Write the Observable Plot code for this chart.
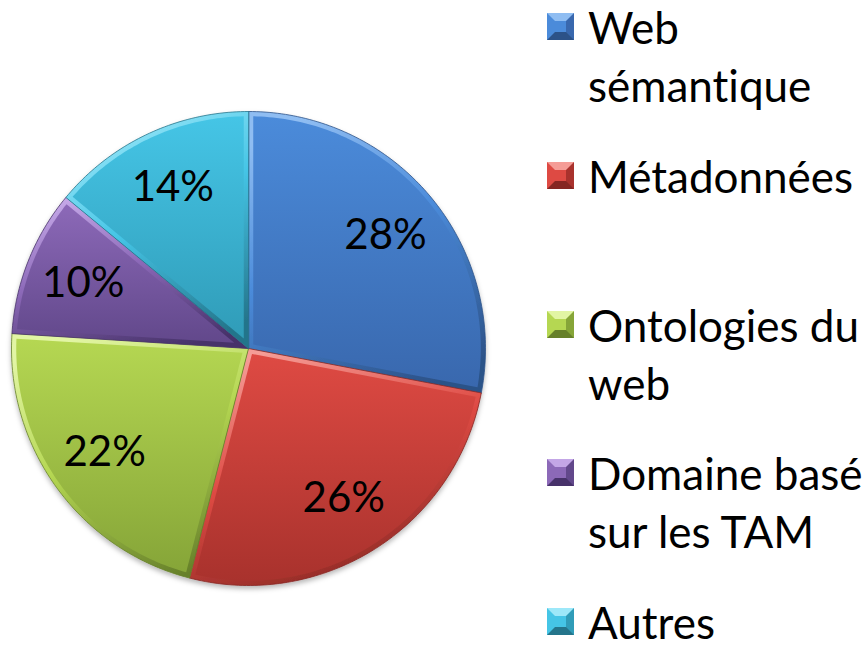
<!DOCTYPE html>
<html>
<head>
<meta charset="utf-8">
<script src="https://cdn.jsdelivr.net/npm/d3@7"></script>
<script src="https://cdn.jsdelivr.net/npm/@observablehq/plot@0.6"></script>
<style>
  html, body { margin: 0; padding: 0; background: #fff; }
  #wrap { position: relative; width: 867px; height: 660px; overflow: hidden; font-family: Lato, "Open Sans", sans-serif; font-variant-ligatures: none; }
  #chart { position: absolute; left: 0; top: 0; }
  .entry { position: absolute; left: 547px; color: #000; font-size: 44px; line-height: 58px; white-space: nowrap; }
  .sw { position: absolute; left: 0; width: 27px; height: 27px; box-sizing: border-box; border-style: solid; border-width: 8px; }
  .txt { position: absolute; left: 41px; top: 0; }
</style>
</head>
<body>
<div id="wrap">
  <div id="chart"></div>
  <div id="legend"></div>
</div>
<script>
// ---- data ----
const categories = ["Web sémantique", "Métadonnées", "Ontologies du web", "Domaine basé sur les TAM", "Autres"];
const values = [28, 26, 22, 10, 14];
const valueLabels = ["28%", "26%", "22%", "10%", "14%"];
const legendLines = [["Web", "sémantique"], ["Métadonnées"], ["Ontologies du", "web"], ["Domaine basé", "sur les TAM"], ["Autres"]];

// ---- palette (top colour, bottom colour, rim light, rim dark) ----
const topColors    = ["#4b8bda", "#de4a43", "#b5d752", "#8c69b8", "#45c5e6"];
const bottomColors = ["#3968ae", "#a9322d", "#86a538", "#62488b", "#309cb8"];
const rimLight     = ["#8fbdf2", "#f59c96", "#e2f5a4", "#c3a6e6", "#9de8f9"];
const rimDark      = ["#2c5288", "#852622", "#66802a", "#47326a", "#24758b"];

// ---- geometry computed from the values ----
const arcs = d3.pie().sort(null).value(d => d)(values);
const outer = [], inner = [], labelPts = [];
const inset = 0.02;
arcs.forEach((a, i) => {
  const step = Math.PI / 180;
  outer.push({i, x: 0, y: 0});
  const n = Math.max(2, Math.ceil((a.endAngle - a.startAngle) / step));
  for (let k = 0; k <= n; k++) {
    const t = a.startAngle + (a.endAngle - a.startAngle) * k / n;
    outer.push({i, x: Math.sin(t), y: Math.cos(t)});
  }
  const half = (a.endAngle - a.startAngle) / 2, mid = a.startAngle + half;
  const apex = inset / Math.sin(half);
  inner.push({i, x: apex * Math.sin(mid), y: apex * Math.cos(mid)});
  const R = 1 - inset, off = Math.asin(inset / R);
  const s0 = a.startAngle + off, s1 = a.endAngle - off;
  for (let k = 0; k <= n; k++) {
    const t = s0 + (s1 - s0) * k / n;
    inner.push({i, x: R * Math.sin(t), y: R * Math.cos(t)});
  }
  labelPts.push({i, x: 0.75 * Math.sin(mid), y: 0.75 * Math.cos(mid), label: valueLabels[i]});
});

const R = 237, cx = 248, cy = 348, W = 500, H = 660;
const chart = Plot.plot({
  width: W, height: H,
  marginLeft: cx - R, marginRight: W - cx - R,
  marginTop: cy - R, marginBottom: H - cy - R,
  x: {domain: [-1, 1], axis: null},
  y: {domain: [-1, 1], axis: null},
  color: {type: "identity"},
  style: {fontFamily: "Lato, 'Open Sans', sans-serif", background: "transparent", overflow: "visible"},
  marks: [
    Plot.line(outer, {x: "x", y: "y", z: "i", curve: "linear-closed",
      fill: d => `url(#rim${d.i})`, stroke: d => rimDark[d.i], strokeWidth: 0.8, ariaDescription: "rim"}),
    Plot.line(inner, {x: "x", y: "y", z: "i", curve: "linear-closed",
      fill: d => `url(#main${d.i})`, stroke: "none", ariaDescription: "face"}),
    Plot.text(labelPts, {x: "x", y: "y", text: "label", fontSize: 42, fill: "#000", lineAnchor: "middle"})
  ]
});

// gradients and shadow filter
const defs = d3.select(chart).insert("defs", ":first-child");
values.forEach((v, i) => {
  const g1 = defs.append("linearGradient").attr("id", "main" + i).attr("x1", 0).attr("y1", 0).attr("x2", 0).attr("y2", 1);
  g1.append("stop").attr("offset", 0).attr("stop-color", topColors[i]);
  g1.append("stop").attr("offset", 1).attr("stop-color", bottomColors[i]);
  const g2 = defs.append("linearGradient").attr("id", "rim" + i).attr("x1", 0.3).attr("y1", 0).attr("x2", 0.7).attr("y2", 1);
  g2.append("stop").attr("offset", 0).attr("stop-color", rimLight[i]);
  g2.append("stop").attr("offset", 0.45).attr("stop-color", topColors[i]);
  g2.append("stop").attr("offset", 1).attr("stop-color", rimDark[i]);
});
const f = defs.append("filter").attr("id", "shadow").attr("x", "-10%").attr("y", "-10%").attr("width", "120%").attr("height", "120%");
f.append("feDropShadow").attr("dx", 0).attr("dy", 3).attr("stdDeviation", 2.5).attr("flood-color", "#000").attr("flood-opacity", 0.28);
d3.select(chart).select('g[aria-description="rim"]').attr("filter", "url(#shadow)");
document.getElementById("chart").appendChild(chart);

// legend
const legend = d3.select("#legend");
const firstBaseline = 42, lastBaseline = 637;
legendLines.forEach((lines, i) => {
  const base = firstBaseline + (lastBaseline - firstBaseline) * i / (legendLines.length - 1);
  const top = base - 44;
  const e = legend.append("div").attr("class", "entry").style("top", top + "px");
  e.append("div").attr("class", "sw")
    .style("top", (base - 29 - top) + "px")
    .style("background", topColors[i])
    .style("border-top-color", rimLight[i])
    .style("border-left-color", topColors[i])
    .style("border-right-color", bottomColors[i])
    .style("border-bottom-color", rimDark[i]);
  e.append("div").attr("class", "txt").html(lines.join("<br>"));
});
</script>
</body>
</html>
